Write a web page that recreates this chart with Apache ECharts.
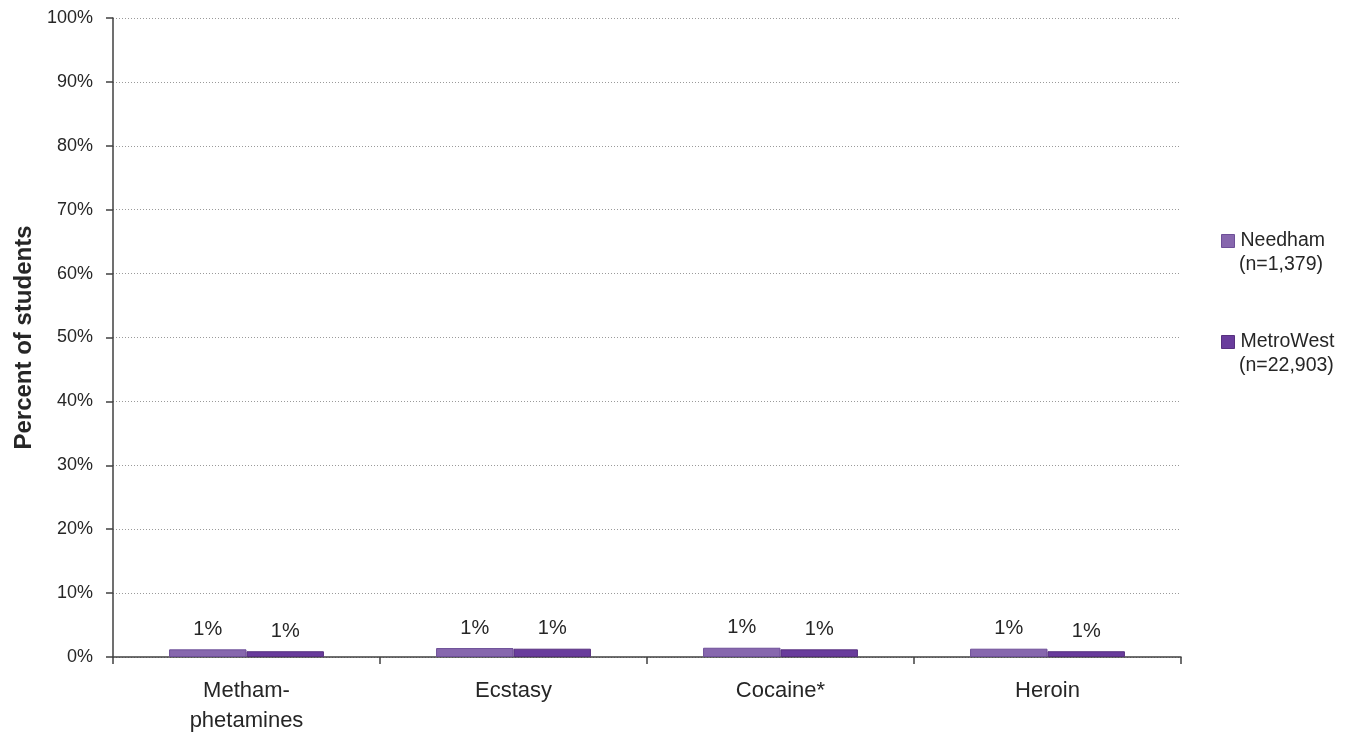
<!DOCTYPE html>
<html>
<head>
<meta charset="utf-8">
<script src="https://cdn.jsdelivr.net/npm/echarts@6/dist/echarts.min.js"></script>
<style>
html,body{margin:0;padding:0;background:#fff;}
#chart{width:1350px;height:737px;}
</style>
</head>
<body>
<div id="chart"></div>
<script>
// ---- data ----
const categories = ['Metham-\nphetamines', 'Ecstasy', 'Cocaine*', 'Heroin'];
const seriesNames = ['Needham', 'MetroWest'];
const sampleSizes = ['(n=1,379)', '(n=22,903)'];
const needham = [1.2, 1.4, 1.45, 1.3];
const metroWest = [0.9, 1.3, 1.2, 0.9];
const yTicks = [0, 10, 20, 30, 40, 50, 60, 70, 80, 90, 100];

const FONT = '"Liberation Sans", Arial, sans-serif';
const TXT = '#262626';
const AXIS = '#404040';
const colors = ['#8767ae', '#693c9c'];
const borders = ['#6e4f98', '#57307f'];

const chart = echarts.init(document.getElementById('chart'), null, {renderer: 'canvas'});

function barSeries(name, data, i) {
  return {
    name: name,
    type: 'bar',
    data: data,
    barGap: '0%',
    barCategoryGap: '42%',
    itemStyle: {color: colors[i], borderColor: borders[i], borderWidth: 1},
    label: {
      show: true,
      position: 'top',
      distance: 10,
      formatter: p => Math.round(p.value) + '%',
      fontFamily: FONT,
      fontSize: 20,
      color: TXT
    }
  };
}

chart.setOption({
  animation: false,
  backgroundColor: '#fff',
  textStyle: {fontFamily: FONT},
  grid: {left: 113, right: 169, top: 18, bottom: 80, containLabel: false},
  legend: [0, 1].map(i => ({
    data: [seriesNames[i]],
    left: 1216,
    top: i === 0 ? 226 : 327,
    orient: 'vertical',
    itemWidth: 13,
    itemHeight: 13,
    icon: 'rect',
    selectedMode: false,
    textStyle: {fontFamily: FONT, fontSize: 19.5, color: TXT, padding: [0, 0, 0, 1]},
    itemStyle: {borderColor: borders[i], borderWidth: 1}
  })),
  graphic: sampleSizes.map((t, i) => ({
    type: 'text',
    left: 1239,
    top: i === 0 ? 255 : 356,
    style: {text: t, fontFamily: FONT, fontSize: 19.5, fill: TXT}
  })),
  xAxis: {
    type: 'category',
    data: categories,
    axisLine: {show: true, lineStyle: {color: AXIS, width: 1.5}},
    axisTick: {show: true, length: 7, lineStyle: {color: AXIS, width: 1.5}},
    axisLabel: {fontFamily: FONT, fontSize: 22, color: TXT, lineHeight: 30, margin: 19}
  },
  yAxis: {
    type: 'value',
    min: 0,
    max: 100,
    interval: 10,
    name: 'Percent of students',
    nameLocation: 'middle',
    nameGap: 75,
    nameTextStyle: {fontFamily: FONT, fontSize: 24, fontWeight: 'bold', color: TXT},
    axisLine: {show: true, lineStyle: {color: AXIS, width: 1.5}},
    axisTick: {show: true, length: 7, lineStyle: {color: AXIS, width: 1.5}},
    axisLabel: {
      fontFamily: FONT, fontSize: 18, color: TXT, margin: 20,
      formatter: v => (yTicks.indexOf(v) >= 0 ? v + '%' : '')
    },
    splitLine: {show: true, lineStyle: {color: '#9a9a9a', type: [1, 2], width: 1}}
  },
  series: [barSeries(seriesNames[0], needham, 0), barSeries(seriesNames[1], metroWest, 1)]
});
</script>
</body>
</html>
